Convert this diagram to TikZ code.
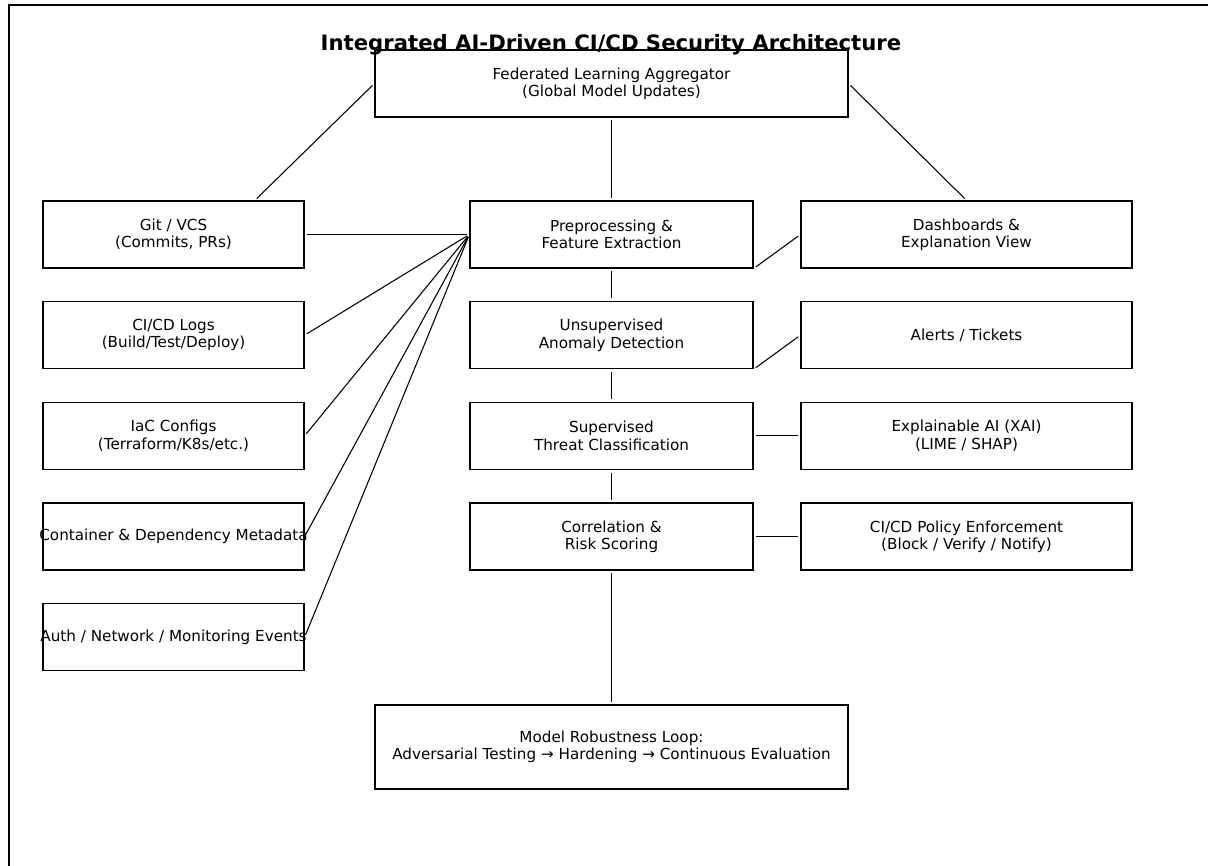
\documentclass[tikz,border=0pt]{standalone}
\usepackage{fontspec}
\setmainfont{DejaVu Sans}
\usetikzlibrary{positioning}

\begin{document}
\begin{tikzpicture}[x=0.75pt,y=-0.75pt,node distance=75.5pt,on grid,
        font=\fontsize{11.4}{13}\selectfont,
        box/.style={draw,line width=0.9pt,align=center,inner sep=0pt,minimum height=50.25pt},
        lbox/.style={box,minimum width=195.75pt,inner xsep=-10pt},
        mbox/.style={box,minimum width=212.25pt},
        rbox/.style={box,minimum width=248.25pt},
        wbox/.style={box,minimum width=354.75pt},
        link/.style={line width=0.8pt,shorten >=2pt,shorten <=2pt}]
        \clip (0,0) rectangle (1208,865);
        \draw[line width=1.5pt] (8.5,4.5) rectangle (1240,900);

        % middle column
        \node[mbox]             (prep)   at (611.5,234.5) {Preprocessing \&\\Feature Extraction};
        \node[mbox]             (anom)   [below of=prep] {Unsupervised\\Anomaly Detection};
        \node[mbox]             (cls)    [below of=anom] {Supervised\\Threat Classification};
        \node[mbox]             (corr)   [below of=cls]  {Correlation \&\\Risk Scoring};
        \node[wbox]             (fl)     [above of=prep, node distance=113.25pt] {Federated Learning Aggregator\\(Global Model Updates)};
        \node[wbox, minimum height=63pt] (robust) [below of=corr, node distance=157.9pt]
              {Model Robustness Loop:\\Adversarial Testing → Hardening → Continuous Evaluation};

        % data sources
        \node[lbox]             (git)    [left of=prep, node distance=328.5pt] {Git / VCS\\(Commits, PRs)};
        \node[lbox]             (logs)   [below of=git]  {CI/CD Logs\\(Build/Test/Deploy)};
        \node[lbox]             (iac)    [below of=logs] {IaC Configs\\(Terraform/K8s/etc.)};
        \node[lbox]             (cont)   [below of=iac]  {Container \& Dependency Metadata};
        \node[lbox]             (auth)   [below of=cont] {Auth / Network / Monitoring Events};

        % outputs
        \node[rbox]             (dash)   [right of=prep, node distance=266.25pt] {Dashboards \&\\Explanation View};
        \node[rbox]             (alert)  [below of=dash]  {Alerts / Tickets};
        \node[rbox]             (xai)    [below of=alert] {Explainable AI (XAI)\\(LIME / SHAP)};
        \node[rbox]             (policy) [below of=xai]   {CI/CD Policy Enforcement\\(Block / Verify / Notify)};

        \node[anchor=base, font=\fontsize{15.9}{18}\selectfont\bfseries] (title) at (611,50)
              {Integrated AI-Driven CI/CD Security Architecture};

        \path[link]
        (fl.west)         edge ([xshift=61pt]git.north)
        (fl.east)         edge (dash.north)
        (fl.south)        edge (prep.north)
        (git.east)        edge (prep.west)
        (logs.east)       edge (prep.west)
        (iac.east)        edge (prep.west)
        (cont.east)       edge (prep.west)
        (auth.east)       edge (prep.west)
        (prep.south)      edge (anom.north)
        (anom.south)      edge (cls.north)
        (cls.south)       edge (corr.north)
        (corr.south)      edge (robust.north)
        (prep.south east) edge (dash.west)
        (anom.south east) edge (alert.west)
        (cls.east)        edge (xai.west)
        (corr.east)       edge (policy.west)
        ;
    \end{tikzpicture}
\end{document}
